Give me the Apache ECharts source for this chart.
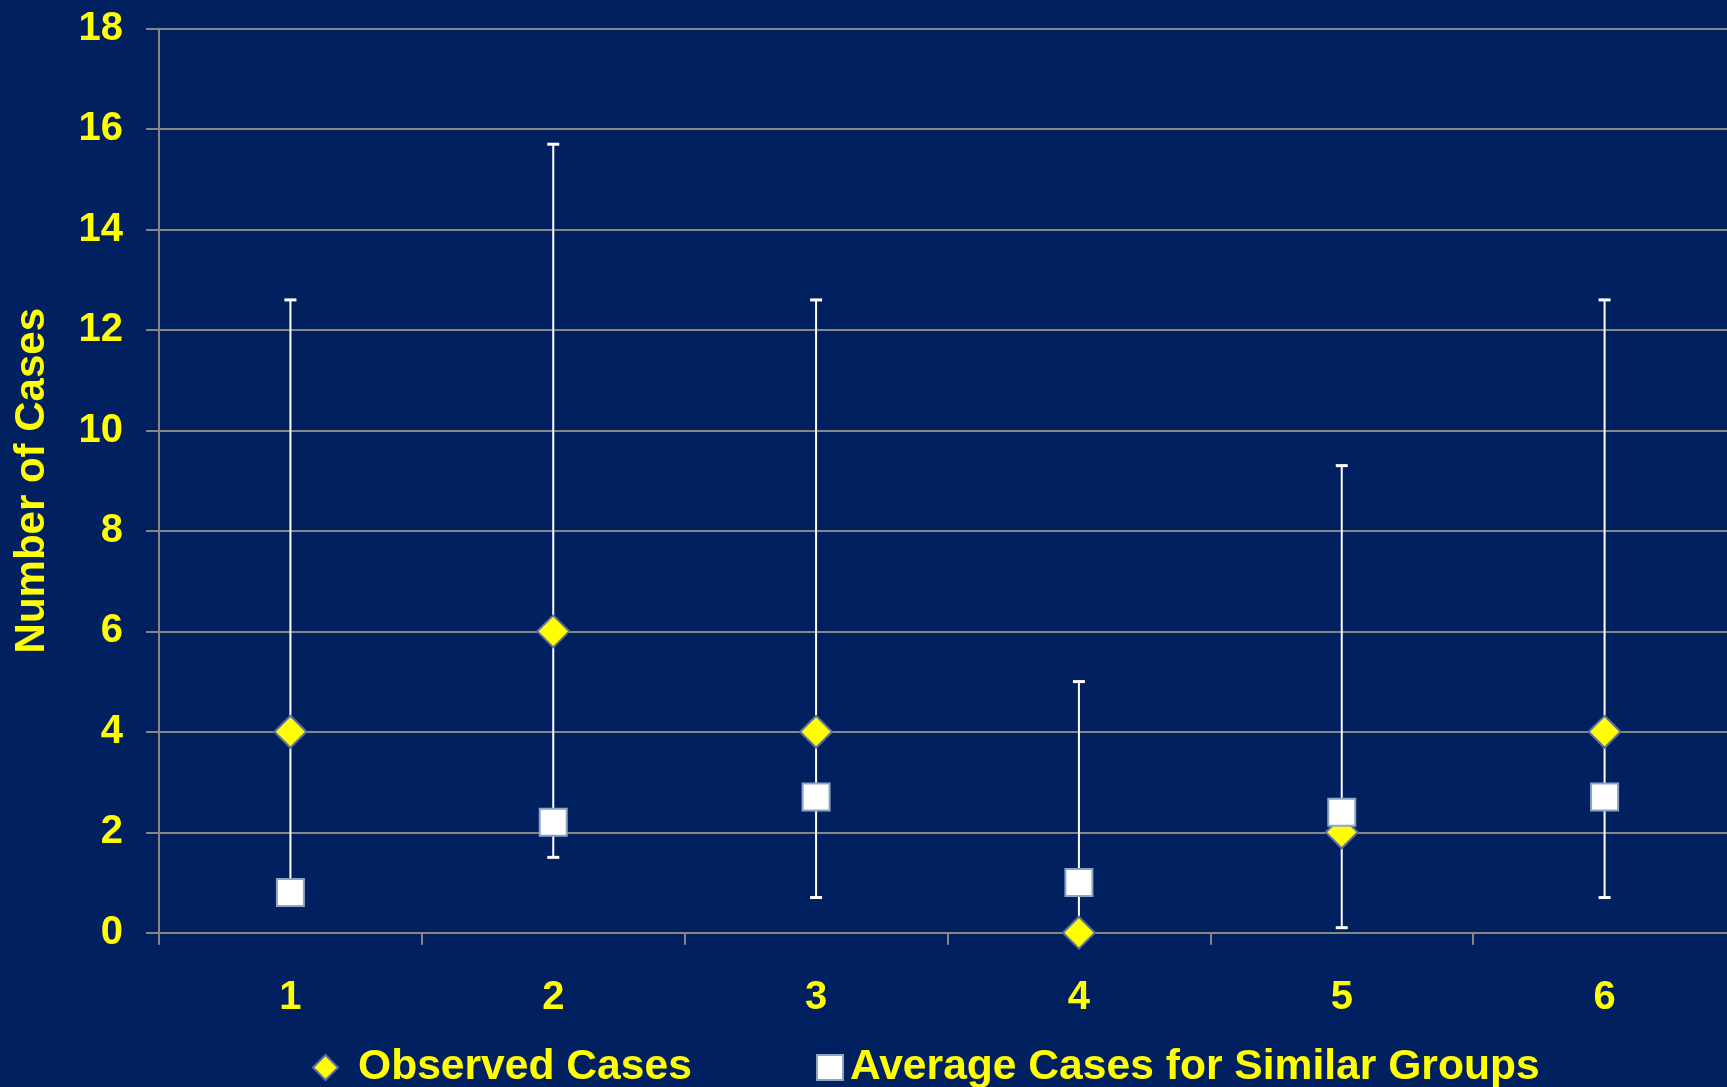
<!DOCTYPE html>
<html>
<head>
<meta charset="utf-8">
<script src="https://cdn.jsdelivr.net/npm/echarts@6/dist/echarts.min.js"></script>
<style>
html,body{margin:0;padding:0;background:#002060;}
#chart{width:1727px;height:1087px;}
</style>
</head>
<body>
<div id="chart"></div>
<script>
const categories = ['1', '2', '3', '4', '5', '6'];
const observedCases = [4, 6, 4, 0, 2, 4];
const averageCases = [0.8, 2.2, 2.7, 1.0, 2.4, 2.7];
const ciLower = [0.7, 1.5, 0.7, 0, 0.1, 0.7];
const ciUpper = [12.6, 15.7, 12.6, 5.0, 9.3, 12.6];
const yTicks = { min: 0, max: 18, interval: 2 };

const FONT = 'Liberation Sans, Arial, sans-serif';
const YELLOW = '#FFFF00';
const GRID = '#868686';

const errorData = categories.map((c, i) => [i, ciLower[i], ciUpper[i]]);

const chart = echarts.init(document.getElementById('chart'));
chart.setOption({
  backgroundColor: '#002060',
  animation: false,
  grid: { left: 159, top: 28.7, width: 1577, height: 904, outerBoundsMode: 'none' },
  legend: [
    {
      data: ['Observed Cases'], left: 307, top: 1041, itemWidth: 25, itemHeight: 25,
      textStyle: { color: YELLOW, fontSize: 42.6, fontWeight: 'bold', fontFamily: FONT, padding: [0, 0, 0, 15] }
    },
    {
      data: ['Average Cases for Similar Groups'], left: 811, top: 1041, itemWidth: 26, itemHeight: 25,
      textStyle: { color: YELLOW, fontSize: 42.6, fontWeight: 'bold', fontFamily: FONT, padding: [0, 0, 0, 2] }
    }
  ],
  xAxis: {
    type: 'category',
    data: categories,
    boundaryGap: true,
    axisLine: { lineStyle: { color: GRID, width: 2 } },
    axisTick: { show: true, length: 12, lineStyle: { color: GRID, width: 2 } },
    axisLabel: { color: YELLOW, fontSize: 40, fontWeight: 'bold', fontFamily: FONT, margin: 45 }
  },
  yAxis: {
    type: 'value',
    min: yTicks.min, max: yTicks.max, interval: yTicks.interval,
    name: 'Number of Cases',
    nameLocation: 'middle',
    nameGap: 106,
    nameTextStyle: { color: YELLOW, fontSize: 42, fontWeight: 'bold', fontFamily: FONT },
    axisLine: { show: true, lineStyle: { color: GRID, width: 2 } },
    axisTick: { show: true, length: 13, lineStyle: { color: GRID, width: 2 } },
    splitLine: { show: true, lineStyle: { color: GRID, width: 2 } },
    axisLabel: { color: YELLOW, fontSize: 40, fontWeight: 'bold', fontFamily: FONT, margin: 36 }
  },
  series: [
    {
      type: 'custom',
      name: 'CI',
      data: errorData,
      z: 1,
      renderItem: function (params, api) {
        const x = api.value(0);
        const lo = api.coord([x, api.value(1)]);
        const hi = api.coord([x, api.value(2)]);
        const half = 6;
        const st = { stroke: '#FFFFFF', lineWidth: 2 };
        const capSt = { stroke: '#FFFFFF', lineWidth: 3 };
        return {
          type: 'group',
          children: [
            { type: 'line', shape: { x1: lo[0], y1: lo[1], x2: hi[0], y2: hi[1] }, style: st },
            { type: 'line', shape: { x1: hi[0] - half, y1: hi[1], x2: hi[0] + half, y2: hi[1] }, style: capSt },
            { type: 'line', shape: { x1: lo[0] - half, y1: lo[1], x2: lo[0] + half, y2: lo[1] }, style: capSt }
          ]
        };
      }
    },
    {
      type: 'scatter',
      name: 'Observed Cases',
      data: observedCases,
      symbol: 'diamond',
      symbolSize: [32, 32],
      z: 3,
      itemStyle: { color: YELLOW, borderColor: '#5d6f9a', borderWidth: 2, opacity: 1 }
    },
    {
      type: 'scatter',
      name: 'Average Cases for Similar Groups',
      data: averageCases,
      symbol: 'rect',
      symbolSize: [27, 27],
      z: 4,
      itemStyle: { color: '#FFFFFF', borderColor: '#8ea4c4', borderWidth: 2, opacity: 1 }
    }
  ]
});
</script>
</body>
</html>
